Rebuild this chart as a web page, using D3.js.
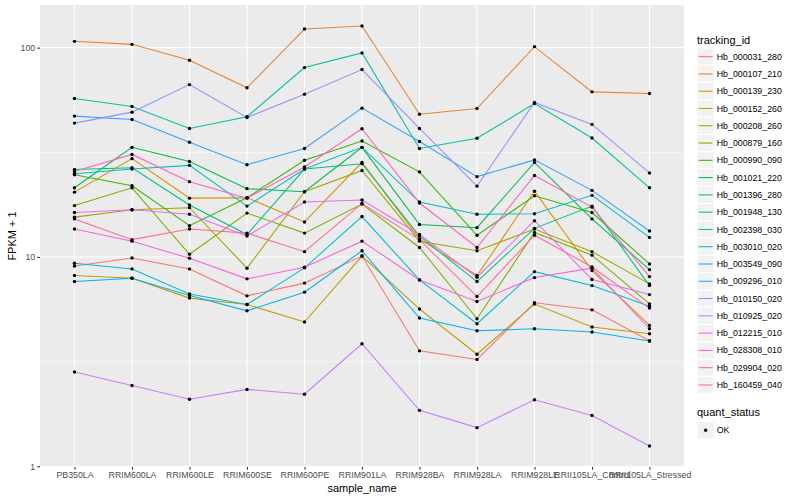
<!DOCTYPE html>
<html>
<head>
<meta charset="utf-8">
<script src="https://d3js.org/d3.v7.min.js"></script>
<style>
  body { margin: 0; background: #ffffff; }
  svg text { font-family: "Liberation Sans", Arial, sans-serif; }
</style>
</head>
<body>
<div id="chart"></div>
<script>
// samples on the x axis
var samples = ["PB350LA", "RRIM600LA", "RRIM600LE", "RRIM600SE", "RRIM600PE", "RRIM901LA",
  "RRIM928BA", "RRIM928LA", "RRIM928LE", "RRII105LA_Control", "RRII105LA_Stressed"];

var trackingIds = ["Hb_000031_280", "Hb_000107_210", "Hb_000139_230", "Hb_000152_260", "Hb_000208_260",
  "Hb_000879_160", "Hb_000990_090", "Hb_001021_220", "Hb_001396_280", "Hb_001948_130",
  "Hb_002398_030", "Hb_003010_020", "Hb_003549_090", "Hb_009296_010", "Hb_010150_020",
  "Hb_010925_020", "Hb_012215_010", "Hb_028308_010", "Hb_029904_020", "Hb_160459_040"];

// FPKM + 1, one array per gene, same order as samples
var hb_000031_280 = [9.06, 9.89, 8.77, 6.52, 7.50, 10.1, 3.56, 3.24, 6.04, 5.59, 3.98];
var hb_000107_210 = [107.2, 103.7, 87.0, 64.3, 122.7, 126.9, 48.1, 51.2, 101.1, 61.5, 60.4];
var hb_000139_230 = [20.4, 29.5, 19.1, 19.2, 14.7, 28.3, 12.2, 8.15, 20.6, 8.61, 4.71];
var hb_000152_260 = [8.15, 7.92, 6.36, 5.93, 4.89, 10.1, 5.64, 3.43, 5.96, 4.63, 4.30];
var hb_000208_260 = [15.5, 16.8, 17.2, 8.84, 20.5, 25.9, 11.9, 10.7, 13.6, 10.6, 7.44];
var hb_000879_160 = [17.6, 21.4, 10.3, 16.2, 13.0, 17.9, 11.1, 5.07, 13.1, 10.2, 5.97];
var hb_000990_090 = [24.7, 21.9, 14.1, 19.2, 29.0, 35.8, 25.5, 12.7, 19.6, 16.3, 9.26];
var hb_001021_220 = [21.4, 33.4, 28.6, 21.2, 20.5, 33.4, 14.3, 13.8, 28.3, 15.2, 8.70];
var hb_001396_280 = [26.2, 26.7, 17.7, 12.8, 26.3, 27.9, 12.6, 7.63, 13.7, 17.5, 7.30];
var hb_001948_130 = [57.2, 52.4, 41.1, 46.8, 80.3, 94.3, 33.0, 36.9, 54.1, 37.0, 21.4];
var hb_002398_030 = [25.0, 26.3, 27.4, 17.5, 26.3, 33.4, 18.3, 16.0, 16.1, 19.7, 12.4];
var hb_003010_020 = [9.33, 8.77, 6.66, 5.93, 8.87, 15.6, 7.77, 4.80, 8.51, 7.30, 5.82];
var hb_003549_090 = [7.63, 7.92, 6.54, 5.53, 6.79, 10.7, 5.11, 4.44, 4.54, 4.38, 3.97];
var hb_009296_010 = [47.1, 45.4, 35.3, 27.6, 33.0, 51.4, 35.6, 24.2, 29.1, 20.8, 13.3];
var hb_010150_020 = [43.6, 49.2, 66.6, 46.4, 59.9, 78.6, 41.1, 21.8, 54.7, 43.0, 25.2];
var hb_010925_020 = [2.82, 2.43, 2.09, 2.33, 2.21, 3.85, 1.85, 1.53, 2.08, 1.75, 1.25];
var hb_012215_010 = [16.3, 16.8, 16.0, 12.6, 18.3, 18.7, 12.8, 8.00, 14.9, 7.80, 6.61];
var hb_028308_010 = [13.6, 11.9, 9.86, 7.86, 8.93, 11.9, 7.77, 6.13, 7.97, 8.84, 4.54];
var hb_029904_020 = [25.6, 30.9, 22.9, 19.1, 26.9, 41.0, 18.1, 11.1, 24.5, 17.3, 8.06];
var hb_160459_040 = [15.2, 12.1, 13.6, 13.0, 10.6, 18.0, 12.1, 6.47, 12.7, 8.96, 5.70];

var yTicks = [1, 10, 100];
var yMinor = [Math.sqrt(10), Math.sqrt(1000)];

// ggplot default hue palette for 20 levels
var palette = ["#F8766D", "#EA8331", "#D89000", "#C09B00", "#A3A500", "#7CAE00", "#39B600", "#00BB4E",
  "#00BF7D", "#00C1A3", "#00BFC4", "#00BAE0", "#00B0F6", "#35A2FF", "#9590FF", "#C77CFF",
  "#E76BF3", "#FA62DB", "#FF62BC", "#FF6C91"];

var allValues = [hb_000031_280, hb_000107_210, hb_000139_230, hb_000152_260, hb_000208_260,
  hb_000879_160, hb_000990_090, hb_001021_220, hb_001396_280, hb_001948_130,
  hb_002398_030, hb_003010_020, hb_003549_090, hb_009296_010, hb_010150_020,
  hb_010925_020, hb_012215_010, hb_028308_010, hb_029904_020, hb_160459_040];

var series = trackingIds.map(function (id, i) {
  return { id: id, color: palette[i], values: allValues[i].map(function (v, j) {
    return { sample: samples[j], value: v };
  }) };
});

var W = 800, H = 500;
var panel = { left: 40, right: 684, top: 5, bottom: 467 };

var svg = d3.select("#chart").append("svg")
  .attr("width", W).attr("height", H);

svg.append("rect").attr("width", W).attr("height", H).attr("fill", "#ffffff");

var x = d3.scalePoint()
  .domain(samples)
  .range([panel.left, panel.right])
  .padding(0.6);

// log scale with ggplot's 5% expansion in log space
var ext = d3.extent(d3.merge(allValues));
var lo = Math.log10(ext[0]), hi = Math.log10(ext[1]);
var pad = (hi - lo) * 0.05;
var y = d3.scaleLog()
  .domain([Math.pow(10, lo - pad), Math.pow(10, hi + pad)])
  .range([panel.bottom, panel.top]);

// panel
svg.append("rect")
  .attr("x", panel.left).attr("y", panel.top)
  .attr("width", panel.right - panel.left).attr("height", panel.bottom - panel.top)
  .attr("fill", "#EBEBEB");

var grid = svg.append("g");
grid.selectAll(".minor").data(yMinor).enter().append("line")
  .attr("x1", panel.left).attr("x2", panel.right)
  .attr("y1", function (d) { return y(d); }).attr("y2", function (d) { return y(d); })
  .attr("stroke", "#ffffff").attr("stroke-width", 0.55);
grid.selectAll(".major").data(yTicks).enter().append("line")
  .attr("x1", panel.left).attr("x2", panel.right)
  .attr("y1", function (d) { return y(d); }).attr("y2", function (d) { return y(d); })
  .attr("stroke", "#ffffff").attr("stroke-width", 1.1);
grid.selectAll(".vmajor").data(samples).enter().append("line")
  .attr("y1", panel.top).attr("y2", panel.bottom)
  .attr("x1", function (d) { return x(d); }).attr("x2", function (d) { return x(d); })
  .attr("stroke", "#ffffff").attr("stroke-width", 1.1);

// lines
var line = d3.line()
  .x(function (d) { return x(d.sample); })
  .y(function (d) { return y(d.value); });

svg.append("g").selectAll("path").data(series).enter().append("path")
  .attr("d", function (d) { return line(d.values); })
  .attr("fill", "none")
  .attr("stroke", function (d) { return d.color; })
  .attr("stroke-width", 1.07);

// points
var pts = svg.append("g");
series.forEach(function (s) {
  pts.selectAll(null).data(s.values).enter().append("circle")
    .attr("cx", function (d) { return x(d.sample); })
    .attr("cy", function (d) { return y(d.value); })
    .attr("r", 1.7)
    .attr("fill", "#000000");
});

// axes
var xAxis = svg.append("g")
  .attr("transform", "translate(0," + panel.bottom + ")")
  .call(d3.axisBottom(x).tickSize(2.75).tickPadding(2));
var yAxis = svg.append("g")
  .attr("transform", "translate(" + panel.left + ",0)")
  .call(d3.axisLeft(y).tickValues(yTicks).tickFormat(d3.format("d")).tickSize(2.75).tickPadding(2));

[xAxis, yAxis].forEach(function (a) {
  a.select(".domain").remove();
  a.selectAll(".tick line").attr("stroke", "#333333").attr("stroke-width", 1.07);
  a.selectAll(".tick text").attr("fill", "#4D4D4D").style("font-size", "8.8px")
    .style("font-family", "'Liberation Sans', Arial, sans-serif");
});

svg.append("text")
  .attr("x", (panel.left + panel.right) / 2).attr("y", 492)
  .attr("text-anchor", "middle")
  .style("font-size", "11px").attr("fill", "#000000")
  .text("sample_name");

svg.append("text")
  .attr("transform", "translate(16," + ((panel.top + panel.bottom) / 2) + ") rotate(-90)")
  .attr("text-anchor", "middle")
  .style("font-size", "11px").attr("fill", "#000000")
  .text("FPKM + 1");

// legend: tracking_id
var keySize = 17.28;
var legX = 697;
var legTop = 48;
var leg = svg.append("g");
leg.append("text")
  .attr("x", legX).attr("y", 44)
  .style("font-size", "11px").attr("fill", "#000000")
  .text("tracking_id");

var items = leg.selectAll(".item").data(series).enter().append("g")
  .attr("transform", function (d, i) { return "translate(" + legX + "," + (legTop + i * keySize) + ")"; });
items.append("rect")
  .attr("width", keySize).attr("height", keySize)
  .attr("fill", "#F2F2F2").attr("stroke", "#ffffff").attr("stroke-width", 1);
items.append("line")
  .attr("x1", 1.7).attr("x2", keySize - 1.7)
  .attr("y1", keySize / 2).attr("y2", keySize / 2)
  .attr("stroke", function (d) { return d.color; })
  .attr("stroke-width", 1.07);
items.append("text")
  .attr("x", keySize + 2.5).attr("y", keySize / 2)
  .attr("dy", "0.35em")
  .style("font-size", "8.8px").attr("fill", "#000000")
  .text(function (d) { return d.id; });

// legend: quant_status
var qTop = legTop + trackingIds.length * keySize + 10;
leg.append("text")
  .attr("x", legX).attr("y", qTop + 12)
  .style("font-size", "11px").attr("fill", "#000000")
  .text("quant_status");
var ok = leg.append("g").attr("transform", "translate(" + legX + "," + (qTop + 18) + ")");
ok.append("rect")
  .attr("width", keySize).attr("height", keySize)
  .attr("fill", "#F2F2F2").attr("stroke", "#ffffff");
ok.append("circle")
  .attr("cx", keySize / 2).attr("cy", keySize / 2).attr("r", 1.7).attr("fill", "#000000");
ok.append("text")
  .attr("x", keySize + 2.5).attr("y", keySize / 2).attr("dy", "0.35em")
  .style("font-size", "8.8px").attr("fill", "#000000")
  .text("OK");
</script>
</body>
</html>
